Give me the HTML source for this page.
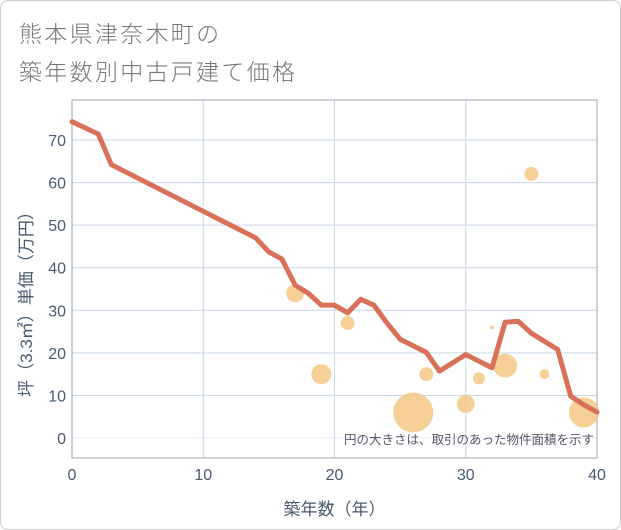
<!DOCTYPE html>
<html><head><meta charset="utf-8"><style>
body{margin:0;background:#fff;}
#card{position:absolute;left:0;top:0;width:619px;height:528px;border:1px solid #ccc;border-radius:8px;background:#fff;overflow:hidden;font-family:"Liberation Sans","Noto Sans CJK JP",sans-serif;}
.t{position:absolute;left:18px;font-size:23px;letter-spacing:2.3px;color:#777;font-weight:300;white-space:nowrap;}
</style></head><body>
<div id="card">
<div class="t" style="top:14px">熊本県津奈木町の</div>
<div class="t" style="top:52px">築年数別中古戸建て価格</div>
<svg id="chart" width="621" height="530" style="position:absolute;left:-1px;top:-1px"></svg>
</div>
<script>
const lineX=[0,2,3,14,15,16,17,18,19,20,21,22,23,24,25,27,28,30,32,33,34,35,37,38,39,40];
const lineY=[74.3,71.4,64.2,47,43.7,42,35.9,34,31.2,31.2,29.4,32.6,31.2,27,23.2,20.1,15.7,19.6,16.5,27.2,27.4,24.6,20.8,9.8,7.8,6.1];
const bubX=[17,19,21,26,27,30,31,32,33,35,36,39];
const bubY=[34,15,27,6,15,8,14,26,17,62,15,6];
const bubSize=[81,100,49,400,49,81,36,4,144,49,25,225];
const xTicks=[0,10,20,30,40];
const yTicks=[0,10,20,30,40,50,60,70];
const NS="http://www.w3.org/2000/svg";
const svg=document.getElementById('chart');
const L=72,R=597,T=100,B=458;
const sx=v=>L+v*(R-L)/40;
const sy=v=>438-v*(438-140)/70;
function mk(tag,attrs,parent){const e=document.createElementNS(NS,tag);for(const k in attrs)e.setAttribute(k,attrs[k]);(parent||svg).appendChild(e);return e;}
const grid=mk('g',{});


yTicks.forEach(v=>{
 const l=mk('line',{x1:L,x2:R,y1:sy(v),y2:sy(v),stroke:v===0?'#e6eef8':'#c9d6e6','stroke-width':1},grid);
 
 
 const t=mk('text',{x:L-6,y:sy(v)+6,'text-anchor':'end','font-size':16,fill:'#4a5a70'});
 t.textContent=v;
 
 
});
xTicks.forEach(v=>{
 const l=mk('line',{x1:sx(v),x2:sx(v),y1:T,y2:B,stroke:'#c9d6e6','stroke-width':1},grid);
 
 
 const t=mk('text',{x:sx(v),y:B+22,'text-anchor':'middle','font-size':16,fill:'#4a5a70'});
 t.textContent=v;
 
 
});
const frame=mk('rect',{x:L,y:T,width:R-L,height:B-T,fill:'none',stroke:'#9aa5b1','stroke-width':1});


const bubbles=mk('g',{});


bubX.forEach((x,i)=>{
 const c=mk('circle',{cx:sx(x),cy:sy(bubY[i]),r:Math.sqrt(bubSize[i]),fill:'#f5c47e','fill-opacity':0.8},bubbles);
 
 
});
const pts=lineX.map((x,i)=>sx(x)+','+sy(lineY[i])).join(' ');
const pl=mk('polyline',{points:pts,fill:'none',stroke:'#d9705a','stroke-width':5,'stroke-linejoin':'round','stroke-linecap':'round'});


const note=mk('text',{x:594,y:444,'text-anchor':'end','font-size':12.5,fill:'#556'});
note.textContent='円の大きさは、取引のあった物件面積を示す';


const xt=mk('text',{x:(L+R)/2,y:515,'text-anchor':'middle','font-size':17,fill:'#4a5a70'});
xt.textContent='築年数（年）';


const yt=mk('text',{x:0,y:0,'text-anchor':'middle','font-size':17,fill:'#4a5a70',transform:'translate(32,300) rotate(-90)'});
yt.textContent='坪（3.3㎡）単価（万円）';


</script>
</body></html>
